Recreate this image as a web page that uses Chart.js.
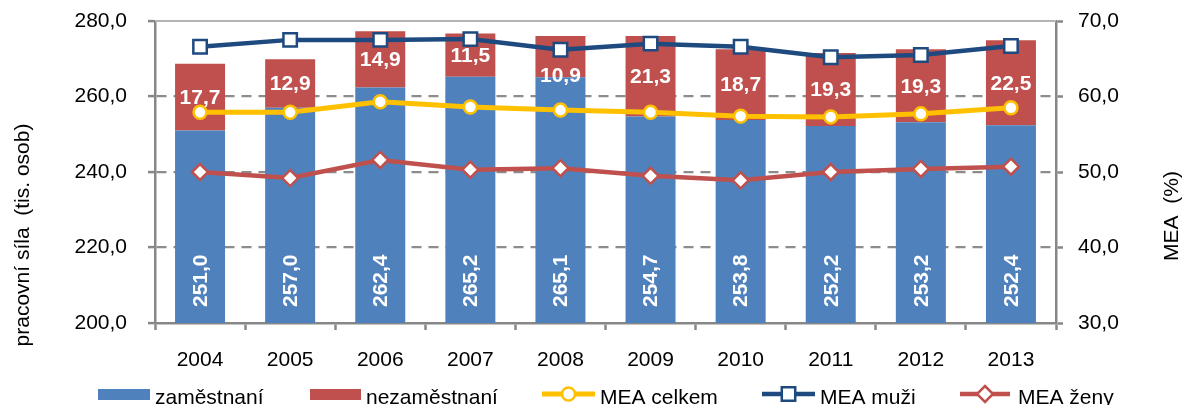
<!DOCTYPE html>
<html><head><meta charset="utf-8">
<script src="https://cdn.jsdelivr.net/npm/chart.js@4"></script>
<style>html,body{margin:0;padding:0;background:#fff}#wrap{width:1182px;height:405px;position:relative}canvas{display:block}</style>
</head><body><div id="wrap"><canvas id="c" width="1182" height="405"></canvas></div>
<script>
const years = ['2004','2005','2006','2007','2008','2009','2010','2011','2012','2013'];
const zamestnani = [251.0,257.0,262.4,265.2,265.1,254.7,253.8,252.2,253.2,252.4];
const nezamestnani = [17.7,12.9,14.9,11.5,10.9,21.3,18.7,19.3,19.3,22.5];
const meaCelkem = [57.9,57.9,59.3,58.6,58.2,57.9,57.4,57.3,57.7,58.5];
const meaMuzi = [66.6,67.5,67.5,67.6,66.2,67.0,66.6,65.2,65.5,66.7];
const meaZeny = [50.0,49.2,51.6,50.3,50.5,49.5,48.9,50.0,50.4,50.7];
const leftRange = {min:200, max:280, step:20};
const rightRange = {min:30, max:70, step:10};
const leftTitle = 'pracovní síla  (tis. osob)';
const rightTitle = 'MEA  (%)';

const FONT = '"Liberation Sans", Arial, sans-serif';
const FS = 21;
const AX = '#878787';
const fmt = v => v.toFixed(1).replace('.', ',');

const C = {blue:'#4F81BD', red:'#C0504D', yellow:'#FFC000', navy:'#1F4A80', redLine:'#C0504D'};

const labelPlugin = {
  id:'labels',
  afterDatasetsDraw(chart){
    const ctx = chart.ctx, ca = chart.chartArea;
    ctx.save();
    ctx.fillStyle = '#fff';
    ctx.font = 'bold ' + FS + 'px ' + FONT;
    const m0 = chart.getDatasetMeta(0), m1 = chart.getDatasetMeta(1);
    m0.data.forEach((el,i)=>{
      ctx.save();
      ctx.translate(el.x, ca.bottom - 16);
      ctx.rotate(-Math.PI/2);
      ctx.textAlign='left'; ctx.textBaseline='middle';
      ctx.fillText(fmt(zamestnani[i]), 0, 1);
      ctx.restore();
    });
    const shift = chart.options.plugins.labels.shift || {};
    m1.data.forEach((el,i)=>{
      ctx.textAlign='center'; ctx.textBaseline='middle';
      const y = (el.y + el.base)/2 + (shift[i]||0);
      ctx.fillText(fmt(nezamestnani[i]), el.x, y + 1);
    });
    ctx.restore();
  },
  afterDraw(chart){
    const ctx = chart.ctx, ca = chart.chartArea;
    ctx.save();
    ctx.strokeStyle = '#b4b4b4'; ctx.lineWidth = 2;
    ctx.beginPath(); ctx.moveTo(ca.left, ca.top); ctx.lineTo(ca.right, ca.top); ctx.stroke();
    ctx.fillStyle = '#000'; ctx.font = FS + 'px ' + FONT;
    ctx.textAlign='center'; ctx.textBaseline='middle';
    ctx.save(); ctx.translate(23, 235); ctx.rotate(-Math.PI/2); ctx.fillText(leftTitle,0,0); ctx.restore();
    ctx.save(); ctx.translate(1172, 216); ctx.rotate(-Math.PI/2); ctx.fillText(rightTitle,0,0); ctx.restore();
    const ly = 395;
    const items = chart.data.datasets;
    const pos = [[98,150,155],[310,361,366],[542,595,600],[762,815,820],[960,1010,1018]];
    items.forEach((ds,i)=>{
      const [x0,x1,tx] = pos[i];
      if (ds.type === 'bar') {
        ctx.fillStyle = ds.backgroundColor;
        ctx.fillRect(x0, ly-6, x1-x0, 11);
      } else {
        ctx.strokeStyle = ds.borderColor; ctx.lineWidth = ds.borderWidth;
        ctx.beginPath(); ctx.moveTo(x0, ly-1); ctx.lineTo(x1, ly-1); ctx.stroke();
        ctx.fillStyle = '#fff'; ctx.strokeStyle = ds.pointBorderColor; ctx.lineWidth = ds.pointBorderWidth;
        ctx.beginPath();
        const r = ds.pointRadius, cx=(x0+x1)/2, cy = ly-1;
        if (ds.pointStyle==='circle') ctx.arc(cx, cy, r, 0, Math.PI*2);
        else if (ds.pointStyle==='rect') { const s=r*Math.SQRT1_2; ctx.rect(cx-s, cy-s, 2*s, 2*s); }
        else { ctx.moveTo(cx, cy-r); ctx.lineTo(cx+r, cy); ctx.lineTo(cx, cy+r); ctx.lineTo(cx-r, cy); ctx.closePath(); }
        ctx.fill(); ctx.stroke();
      }
      ctx.fillStyle = '#000'; ctx.font = FS + 'px ' + FONT;
      ctx.textAlign='left'; ctx.textBaseline='alphabetic';
      ctx.fillText(ds.label, tx, 404);
    });
    ctx.restore();
  }
};

const lineDs = (label, data, color, style, radius, width) => ({
  type:'line', label, data, yAxisID:'y1', order:0,
  borderColor:color, borderWidth:width, tension:0,
  pointStyle:style, pointRadius:radius, pointHoverRadius:radius,
  pointBackgroundColor:'#fff', pointBorderColor:color, pointBorderWidth:2.5
});

const noPad = s => { s.paddingTop = 0; s.paddingBottom = 0; };

new Chart(document.getElementById('c'), {
  type:'bar',
  data:{
    labels: years,
    datasets:[
      {type:'bar', label:'zaměstnaní', data:zamestnani, backgroundColor:C.blue, yAxisID:'y', order:1, stack:'s'},
      {type:'bar', label:'nezaměstnaní', data:nezamestnani, backgroundColor:C.red, yAxisID:'y', order:1, stack:'s'},
      lineDs('MEA celkem', meaCelkem, C.yellow, 'circle', 6.5, 5),
      lineDs('MEA muži', meaMuzi, C.navy, 'rect', 9.5, 4.5),
      lineDs('MEA ženy', meaZeny, C.redLine, 'rectRot', 8, 4.5)
    ]
  },
  options:{
    responsive:false, animation:false, devicePixelRatio:1,
    layout:{padding:{top:21, left:0, right:0, bottom:0}},
    datasets:{bar:{barPercentage:0.555, categoryPercentage:1}},
    plugins:{legend:{display:false}, tooltip:{enabled:false}, labels:{shift:{4:19}}},
    scales:{
      x:{
        stacked:true, offset:true,
        grid:{offset:true, drawOnChartArea:false, drawTicks:true, tickLength:7, tickColor:AX, tickWidth:2.5},
        border:{color:AX, width:2.5},
        ticks:{color:'#000', font:{family:FONT, size:FS}, padding:18, maxRotation:0},
        afterFit(s){ s.height = 82; s.paddingLeft = 0; s.paddingRight = 0; }
      },
      y:{
        stacked:true, position:'left', min:leftRange.min, max:leftRange.max,
        ticks:{stepSize:leftRange.step, color:'#000', font:{family:FONT, size:FS}, padding:21, callback:v=>fmt(v)},
        grid:{color:c=> (c.tick && (c.tick.value===leftRange.min || c.tick.value===leftRange.max)) ? 'rgba(0,0,0,0)' : '#8c8c8c', lineWidth:2.2, tickLength:7, tickColor:AX, tickWidth:2.5},
        border:{color:AX, width:2.5, dash:[10,7]},
        afterFit(s){ s.width = 155; noPad(s); }
      },
      y1:{
        position:'right', min:rightRange.min, max:rightRange.max,
        ticks:{stepSize:rightRange.step, color:'#000', font:{family:FONT, size:FS}, padding:15, callback:v=>fmt(v)},
        grid:{drawOnChartArea:false, tickLength:7, tickColor:AX, tickWidth:2.5},
        border:{color:AX, width:2.5},
        afterFit(s){ s.width = 126; noPad(s); }
      }
    }
  },
  plugins:[labelPlugin]
});
</script></body></html>
